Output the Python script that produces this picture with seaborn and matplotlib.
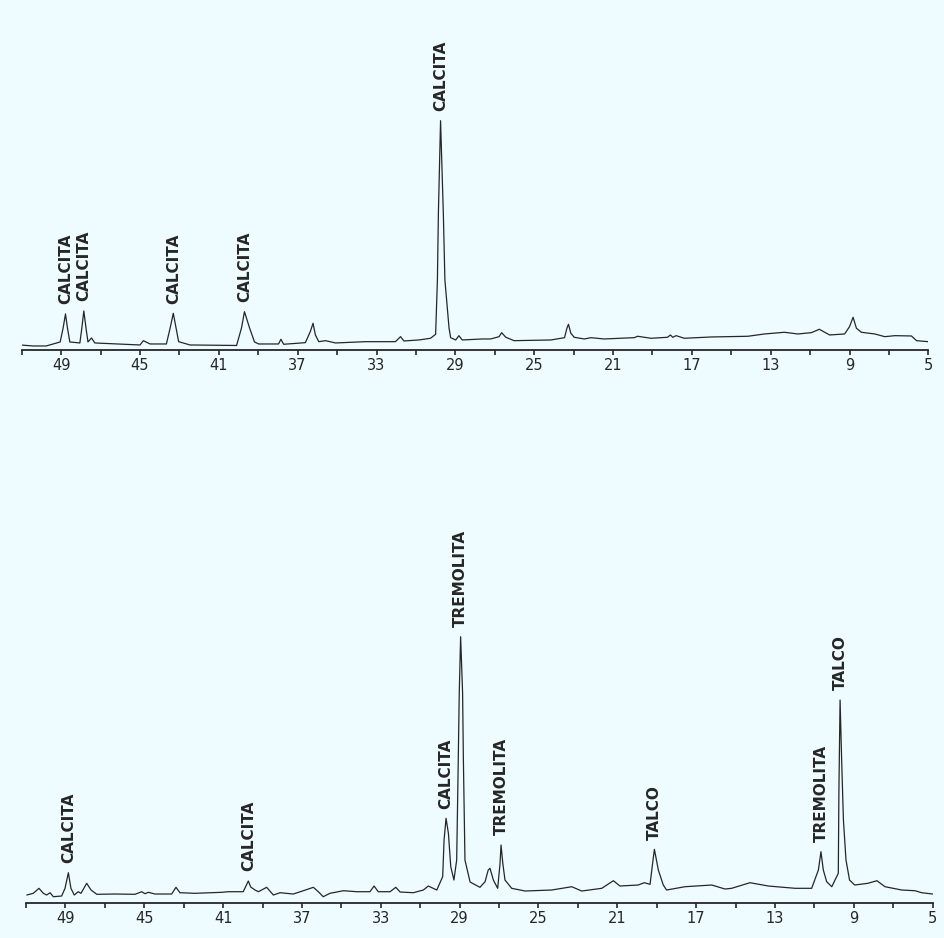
#%%
import numpy as np
import pandas as pd
import matplotlib
matplotlib.use("Agg")
import matplotlib.pyplot as plt
import seaborn as sns

#%% difratogramas (2 theta, intensidade relativa)
top_2theta = [51.08, 50.42, 49.76, 49.05, 48.90, 48.78, 48.68, 48.56, 48.05, 47.95,
              47.85, 47.74, 47.64, 47.46, 47.29, 45.00, 44.83, 44.49, 43.66, 43.47,
              43.31, 43.17, 43.04, 42.46, 40.10, 39.85, 39.70, 39.44, 39.19, 38.98,
              37.97, 37.85, 37.71, 36.61, 36.36, 36.22, 36.10, 35.93, 35.59, 35.08,
              33.56, 32.04, 31.78, 31.61, 30.85, 30.26, 30.00, 29.91, 29.86, 29.75,
              29.61, 29.53, 29.32, 29.24, 28.98, 28.82, 28.65, 27.63, 27.21, 26.78,
              26.65, 26.44, 26.02, 24.15, 23.46, 23.34, 23.26, 23.14, 22.97, 22.46,
              22.12, 21.45, 19.92, 19.75, 19.07, 18.23, 18.09, 17.97, 17.80, 17.38,
              16.02, 14.16, 13.31, 12.30, 11.62, 10.94, 10.53, 10.26, 10.01, 9.25,
              9.00, 8.82, 8.65, 8.40, 7.72, 7.21, 6.70, 5.86, 5.60, 5.01]
top_int = [5, 4, 4, 8, 22, 36, 22, 8, 7, 22,
           39, 22, 8, 12, 7, 5, 9.3, 6, 6, 22,
           36.7, 22, 8.3, 5, 4.5, 22, 38.3, 22, 8, 6,
           6, 10.7, 5.7, 7.3, 18.3, 26.7, 15, 8.3, 9.3, 7,
           8.3, 8.3, 13.3, 9, 10, 11.7, 15.7, 70, 137, 229.3,
           137, 70, 22, 12.3, 10, 14.3, 10, 11, 11, 13.3,
           17.3, 12.7, 9.3, 10, 12.3, 21.7, 25.7, 16.7, 12.7, 11,
           12.3, 11, 12.3, 13.7, 11.7, 12.7, 15, 12.7, 14.3, 11.7,
           13, 13.7, 16, 17.7, 16, 17.3, 20.7, 17.7, 15, 16,
           23.3, 32.7, 21.7, 17.7, 16, 13.3, 14.3, 14, 9.3, 8.3]

bot_2theta = [50.96, 50.63, 50.34, 50.12, 49.95, 49.78, 49.61, 49.19, 49.02, 48.85,
              48.72, 48.55, 48.35, 48.21, 47.92, 47.70, 47.41, 46.48, 45.47, 45.13,
              44.96, 44.79, 44.46, 43.61, 43.39, 43.19, 42.43, 41.07, 40.74, 39.98,
              39.72, 39.60, 39.38, 39.21, 38.79, 38.45, 38.11, 37.44, 36.93, 36.42,
              36.17, 35.92, 35.58, 34.90, 34.22, 33.55, 33.34, 33.13, 32.53, 32.24,
              32.02, 31.35, 30.84, 30.59, 30.16, 29.86, 29.79, 29.69, 29.57, 29.45,
              29.29, 29.15, 29.07, 29.02, 28.95, 28.85, 28.81, 28.73, 28.47, 27.97,
              27.71, 27.55, 27.46, 27.29, 27.07, 26.95, 26.90, 26.81, 26.70, 26.36,
              25.68, 24.33, 23.31, 22.81, 21.79, 21.20, 20.87, 19.94, 19.63, 19.34,
              19.21, 19.12, 18.92, 18.67, 18.50, 17.57, 16.21, 15.54, 15.20, 14.27,
              13.34, 11.98, 11.14, 10.80, 10.67, 10.55, 10.38, 10.12, 9.79, 9.76,
              9.70, 9.62, 9.53, 9.40, 9.22, 8.96, 8.29, 7.83, 7.42, 6.57,
              5.90, 5.56, 5.00]
bot_int = [8, 9.7, 14.7, 9.7, 8, 10.3, 6.3, 7, 14.7, 30.3,
           14.7, 8, 11.3, 9.7, 19.7, 13, 8.7, 9, 8.7, 11.3,
           9.3, 10.7, 9, 9, 15.7, 10.3, 9.7, 10.7, 11.3, 11.3,
           22, 16, 13, 11.3, 15.7, 8, 10.3, 9, 12.3, 15.7,
           11.3, 6.3, 9.7, 12.3, 11.3, 11.3, 17, 11.3, 11.3, 15.7,
           11, 10.3, 13, 17, 13, 26.3, 63, 84.7, 69.7, 36.3,
           23, 43, 143, 210, 266.3, 210, 143, 43, 21, 15.7,
           21.3, 33, 34.7, 23, 14.7, 39.7, 58, 39.7, 23, 14.7,
           12, 13, 16.3, 12, 14.7, 22.3, 17, 18, 20.3, 18.7,
           39.7, 53.7, 33, 18, 13, 16.3, 18, 14, 14.7, 20.3,
           17, 14.7, 14.7, 33, 51.3, 33, 21.3, 16.3, 29.7, 110,
           203, 143, 83, 43, 23, 18, 19.7, 22.3, 16.3, 13,
           12.3, 10.3, 9]

top_labels = ["CALCITA", "CALCITA", "CALCITA", "CALCITA", "CALCITA"]
top_label_2theta = [48.78, 47.85, 43.31, 39.70, 29.75]
bot_labels = ["CALCITA", "CALCITA", "CALCITA", "TREMOLITA", "TREMOLITA",
              "TALCO", "TREMOLITA", "TALCO"]
bot_label_2theta = [48.85, 39.72, 29.69, 28.95, 26.90, 19.12, 10.67, 9.70]

major_ticks = [49, 45, 41, 37, 33, 29, 25, 21, 17, 13, 9, 5]
minor_ticks = [51, 47, 43, 39, 35, 31, 27, 23, 19, 15, 11, 7]

#%%
bg = "#eefcff"
ink = "#262626"

sns.set_theme(style="white")
plt.rcParams["font.family"] = ["DejaVu Sans"]

top_df = pd.DataFrame({"2theta": top_2theta, "intensidade": top_int})
bot_df = pd.DataFrame({"2theta": bot_2theta, "intensidade": bot_int})

fig = plt.figure(figsize = (9.45, 9.38), dpi = 100, facecolor = bg)
ax1 = fig.add_axes([0.0230, 0.6269, 0.9594, 0.3731])
ax2 = fig.add_axes([0.0275, 0.0373, 0.9595, 0.3731])

for ax, df, labels, lab_x in [(ax1, top_df, top_labels, top_label_2theta),
                              (ax2, bot_df, bot_labels, bot_label_2theta)]:
    sns.lineplot(data = df, x = "2theta", y = "intensidade", ax = ax,
                 color = ink, lw = 0.9, estimator = None, errorbar = None)
    ax.set_facecolor(bg)
    ax.set_xlim(51, 5)
    ax.set_ylim(0, 350)
    ax.set_xticks(major_ticks)
    ax.set_xticklabels([str(t) for t in major_ticks])
    ax.set_xticks(minor_ticks, minor = True)
    ax.set_yticks([])
    ax.set_xlabel("")
    ax.set_ylabel("")
    ax.tick_params(axis = "x", which = "both", bottom = True, direction = "out",
                   length = 3.5, width = 1.2, color = ink, pad = 2,
                   labelsize = 10.5, labelcolor = ink)
    for s in ["left", "top", "right"]:
        ax.spines[s].set_visible(False)
    ax.spines["bottom"].set_color(ink)
    ax.spines["bottom"].set_linewidth(1.3)

    x_sorted = df["2theta"].values[::-1]
    y_sorted = df["intensidade"].values[::-1]
    for txt, xl in zip(labels, lab_x):
        yl = np.interp(xl, x_sorted, y_sorted)
        ax.annotate(txt, xy = (xl, yl), xytext = (0, 7), textcoords = "offset points",
                    rotation = 90, ha = "center", va = "bottom",
                    fontsize = 11, fontweight = "bold", color = ink)

fig.savefig("out.png", dpi = 100, facecolor = bg)
